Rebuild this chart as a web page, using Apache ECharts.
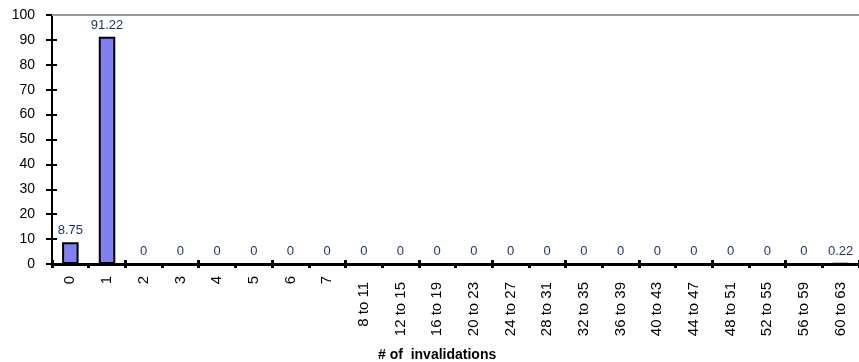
<!DOCTYPE html>
<html><head><meta charset="utf-8">
<script src="https://cdn.jsdelivr.net/npm/echarts@6/dist/echarts.min.js"></script>
<style>html,body{margin:0;padding:0;background:#fff}#c{width:859px;height:362px}</style>
</head><body><div id="c"></div>
<script>
var categories = ['0','1','2','3','4','5','6','7','8 to 11','12 to 15','16 to 19','20 to 23','24 to 27','28 to 31','32 to 35','36 to 39','40 to 43','44 to 47','48 to 51','52 to 55','56 to 59','60 to 63'];
var values = [8.75, 91.22, 0, 0, 0, 0, 0, 0, 0, 0, 0, 0, 0, 0, 0, 0, 0, 0, 0, 0, 0, 0.22];
var yTicks = [0, 10, 20, 30, 40, 50, 60, 70, 80, 90, 100];
var xTitle = '# of  invalidations';

var chart = echarts.init(document.getElementById('c'));
var font = 'Liberation Sans, Arial, sans-serif';
chart.setOption({
  animation: false,
  title: {text: xTitle, left: 378, top: 348, padding: 0,
          textStyle: {fontFamily: font, fontSize: 14, fontWeight: 'bold', color: '#000'}},
  grid: {left: 52, top: 15, width: 814, height: 249, containLabel: false, show: false},
  xAxis: [{
    type: 'category', data: categories,
    axisLine: {lineStyle: {color: '#000', width: 3}},
    axisTick: {show: true, length: 4, lineStyle: {color: '#000', width: 3}},
    axisLabel: {rotate: 90, interval: 0, fontFamily: font, fontSize: 15, color: '#000', margin: 12,
      formatter: function (v) { return v.length > 2 ? '{l|' + v + '}' : '{s|' + v + '}'; },
      rich: {
        l: {fontFamily: font, fontSize: 15, color: '#000', padding: [0, 6, 0, 0]},
        s: {fontFamily: font, fontSize: 15, color: '#000'}
      }}
  }, {
    type: 'category', data: categories, position: 'bottom',
    axisLine: {show: false},
    axisTick: {show: true, inside: true, length: 4, lineStyle: {color: '#000', width: 3}},
    axisLabel: {show: false}
  }],
  yAxis: [{
    type: 'value', min: yTicks[0], max: yTicks[yTicks.length - 1], interval: 10,
    axisLine: {show: true, lineStyle: {color: '#000', width: 2}},
    axisTick: {show: true, length: 6, lineStyle: {color: '#000', width: 2}},
    axisLabel: {fontFamily: font, fontSize: 14, color: '#000', margin: 17},
    splitLine: {show: false}
  }, {
    type: 'value', min: yTicks[0], max: yTicks[yTicks.length - 1], interval: 10, position: 'left',
    axisLine: {show: false},
    axisTick: {show: true, inside: true, length: 5, lineStyle: {color: '#000', width: 2}},
    axisLabel: {show: false},
    splitLine: {show: false}
  }],
  series: [{
    type: 'bar', data: values, barWidth: '45%',
    itemStyle: {color: '#8080f0', borderColor: '#000', borderWidth: 2},
    label: {show: true, position: 'top', distance: 5, fontFamily: font, fontSize: 13, color: '#1f2f5f'},
    markLine: {
      silent: true, symbol: 'none', label: {show: false},
      lineStyle: {color: '#9a9a9a', type: 'solid', width: 2},
      data: [{yAxis: 100}]
    }
  }]
});
</script></body></html>
